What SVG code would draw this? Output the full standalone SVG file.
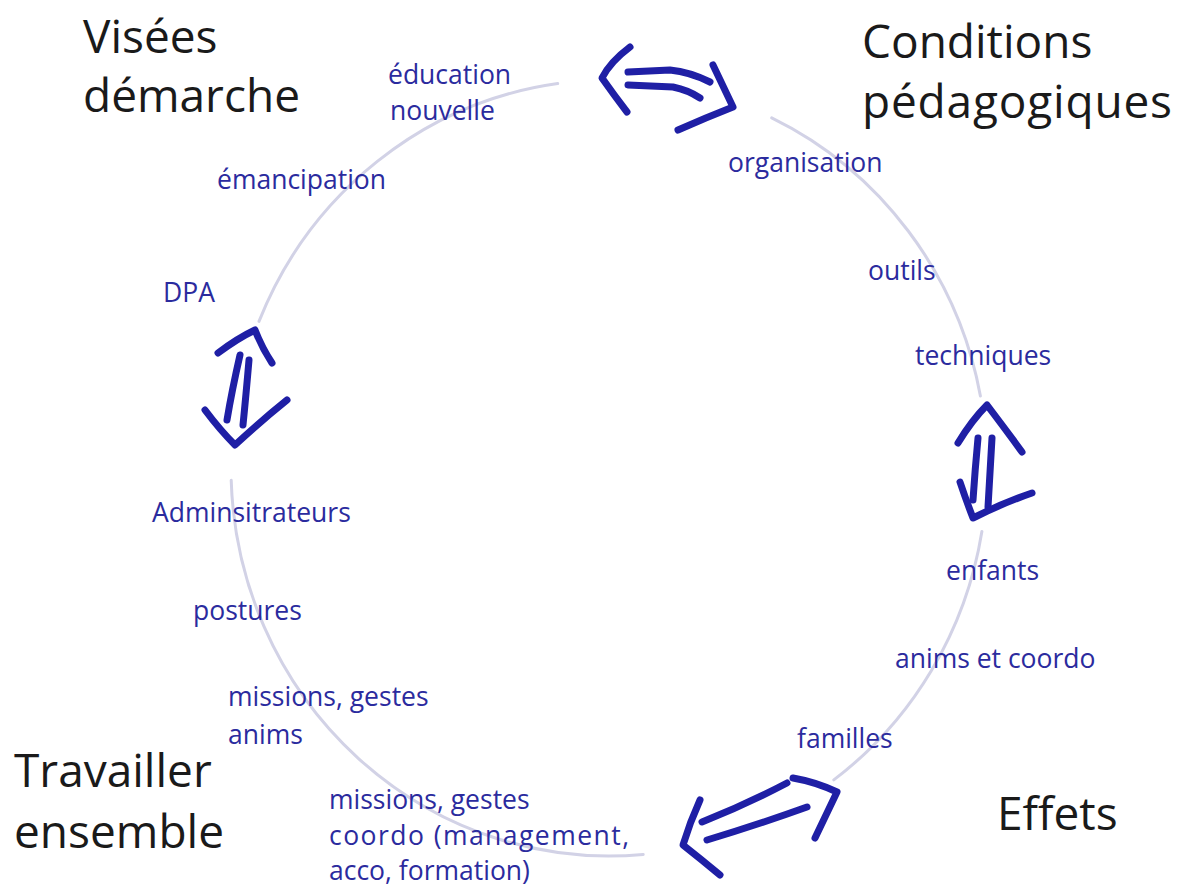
<svg xmlns="http://www.w3.org/2000/svg" width="1184" height="890" viewBox="0 0 1184 890">
<style>
.ring{fill:none;stroke:#d2d2e6;stroke-width:3;stroke-linecap:round}
.arw{fill:none;stroke:#1f1fa5;stroke-width:7;stroke-linecap:round;stroke-linejoin:round}
.lbl{font-family:"Open Sans","Noto Sans",sans-serif;font-size:26.5px;fill:#2b2b9e}
.ttl{font-family:"Open Sans","Noto Sans",sans-serif;font-size:46px;fill:#1a1a1a}
</style>
<rect width="1184" height="890" fill="#ffffff"/>
<g id="connectors">
<path class="ring" d="M771.7,117.8 A378,388 0 0 1 980.4,395.9"/>
<path class="ring" d="M981.9,531.4 A378,388 0 0 1 833.8,779.9"/>
<path class="ring" d="M643.2,854.4 A378,388 0 0 1 231.2,480.2"/>
<path class="ring" d="M259,321.4 A378,388 0 0 1 557.7,83.6"/>
<g id="arrow-top">
<path class="arw" d="M630,47 Q610,62 602,78 Q614,95 627,112"/>
<path class="arw" d="M628,72 L670,70 Q690,72 710,82"/>
<path class="arw" d="M628,85 L673,87 Q688,90 700,98"/>
<path class="arw" d="M713,65 Q724,88 733,107 Q705,118 678,130"/>
</g>
<g id="arrow-left">
<path class="arw" d="M218,353 Q238,338 255,330 Q262,348 272,363"/>
<path class="arw" d="M240,355 Q232,390 227,420"/>
<path class="arw" d="M249,360 Q246,395 243,425"/>
<path class="arw" d="M205,410 Q220,430 235,445 Q262,420 287,400"/>
</g>
<g id="arrow-right">
<path class="arw" d="M958,443 Q972,420 987,405 Q1006,430 1022,452"/>
<path class="arw" d="M978,438 Q975,470 973,500"/>
<path class="arw" d="M992,438 Q990,475 988,507"/>
<path class="arw" d="M960,482 Q966,500 973,518 Q1003,503 1032,493"/>
</g>
<g id="arrow-bottom">
<path class="arw" d="M700,800 Q690,822 683,845 Q702,860 720,875"/>
<path class="arw" d="M702,822 Q745,805 787,783"/>
<path class="arw" d="M707,840 Q757,825 807,807"/>
<path class="arw" d="M793,778 Q816,782 837,792 Q826,815 815,838"/>
</g>
</g>
<g id="visees">
<text class="ttl" x="83" y="53">Visées</text>
<text class="ttl" x="83" y="112">démarche</text>
<text class="lbl" x="388" y="84">éducation</text>
<text class="lbl" x="390" y="120">nouvelle</text>
<text class="lbl" x="217" y="189">émancipation</text>
<text class="lbl" x="163" y="302">DPA</text>
</g>
<g id="conditions">
<text class="ttl" x="862" y="58">Conditions</text>
<text class="ttl" x="862" y="118" textLength="310">pédagogiques</text>
<text class="lbl" x="728" y="172">organisation</text>
<text class="lbl" x="868" y="280">outils</text>
<text class="lbl" x="915" y="365">techniques</text>
</g>
<g id="effets">
<text class="ttl" x="997" y="830">Effets</text>
<text class="lbl" x="946" y="580">enfants</text>
<text class="lbl" x="895" y="668">anims et coordo</text>
<text class="lbl" x="797" y="748">familles</text>
</g>
<g id="travailler">
<text class="ttl" x="14" y="787">Travailler</text>
<text class="ttl" x="14" y="848">ensemble</text>
<text class="lbl" x="152" y="522">Adminsitrateurs</text>
<text class="lbl" x="193" y="620">postures</text>
<text class="lbl" x="228" y="706">missions, gestes</text>
<text class="lbl" x="228" y="744">anims</text>
<text class="lbl" x="329" y="809">missions, gestes</text>
<text class="lbl" x="329" y="845" textLength="300">coordo (management,</text>
<text class="lbl" x="329" y="880">acco, formation)</text>
</g>
</svg>
